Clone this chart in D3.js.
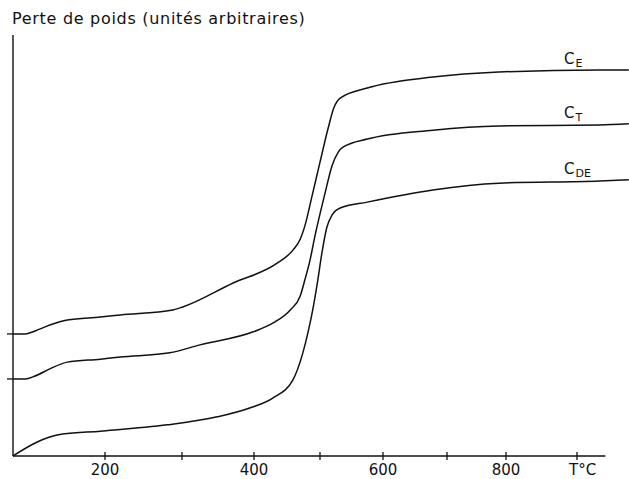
<!DOCTYPE html>
<html>
<head>
<meta charset="utf-8">
<script src="https://cdn.jsdelivr.net/npm/d3@7"></script>
<style>
  body { margin: 0; background: #fff; }
  text { font-family: "DejaVu Sans", sans-serif; fill: #111; }
</style>
</head>
<body>
<div id="chart"></div>
<script>
// temperature (°C) of each read point, and weight loss (arbitrary units, 0-100)
const ceTemps = [100, 113, 124, 140, 159, 195, 220, 288, 301, 371, 435, 459, 470, 477, 488, 500, 513, 522, 532, 575, 678, 788, 932, 973];
const ceValues = [29.0, 29.0, 29.7, 31.1, 32.3, 33.0, 33.5, 34.7, 35.4, 41.1, 45.8, 48.9, 51.5, 54.6, 61.8, 69.8, 77.9, 82.7, 85.0, 87.4, 90.0, 91.2, 91.7, 91.7];

const ctTemps = [100, 113, 124, 140, 159, 195, 220, 284, 325, 399, 429, 455, 470, 477, 485, 492, 500, 510, 519, 529, 537, 575, 678, 788, 932, 973];
const ctValues = [18.3, 18.3, 19.0, 20.7, 22.3, 23.0, 23.5, 24.5, 26.4, 29.5, 31.6, 34.7, 38.0, 41.8, 46.6, 52.0, 57.5, 63.7, 68.9, 72.2, 73.4, 75.3, 77.4, 78.4, 78.6, 78.9];

const cdeTemps = [100, 122, 140, 154, 195, 281, 349, 394, 429, 459, 474, 482, 489, 496, 503, 511, 519, 532, 575, 678, 788, 932, 973];
const cdeValues = [0, 2.85, 4.5, 5.2, 5.9, 7.4, 9.3, 11.4, 13.8, 18.1, 24.5, 29.5, 34.7, 41.1, 48.2, 54.4, 57.2, 58.9, 60.3, 63.2, 64.8, 65.3, 65.6];

const curveNames = ["E", "T", "DE"];

// x ticks: the recorder's temperature marks are not evenly spaced
const tickTemps = [200, 300, 400, 500, 600, 700, 800, 900];
const tickLabels = ["200", "", "400", "", "600", "", "800", "T°C"];

const width = 629;
const height = 479;

const svg = d3.select("#chart")
  .append("svg")
    .attr("width", width)
    .attr("height", height);

// piecewise scale following the marks on the axis
const x = d3.scaleLinear()
  .domain([100, 200, 300, 400, 500, 600, 700, 800, 900])
  .range([13, 105, 182, 254, 320, 383, 447, 506, 577]);

const y = d3.scaleLinear()
  .domain([0, 100])
  .range([456, 35]);

// X axis
const xAxis = svg.append("g")
  .attr("transform", `translate(0, ${y(0)})`);

xAxis.append("line")
  .attr("x1", x(100))
  .attr("x2", x(940))
  .attr("stroke", "#111")
  .attr("stroke-width", 1.4);

xAxis.selectAll(".tick")
  .data(tickTemps)
  .enter()
  .append("line")
    .attr("x1", d => x(d))
    .attr("x2", d => x(d))
    .attr("y1", -4)
    .attr("y2", 4)
    .attr("stroke", "#111")
    .attr("stroke-width", 1.3);

xAxis.selectAll(".label")
  .data(tickTemps)
  .enter()
  .append("text")
    .attr("x", (d, i) => i == tickTemps.length - 1 ? x(d) - 8 : x(d))
    .attr("y", 19)
    .attr("text-anchor", (d, i) => i == tickTemps.length - 1 ? "start" : "middle")
    .style("font-size", "15px")
    .text((d, i) => tickLabels[i]);

// Y axis
svg.append("line")
  .attr("x1", x(100))
  .attr("x2", x(100))
  .attr("y1", y(0))
  .attr("y2", y(100))
  .attr("stroke", "#111")
  .attr("stroke-width", 1.4);

svg.selectAll(".ytick")
  .data([ceValues[0], ctValues[0]])
  .enter()
  .append("line")
    .attr("x1", x(100) - 6)
    .attr("x2", x(100))
    .attr("y1", d => y(d))
    .attr("y2", d => y(d))
    .attr("stroke", "#111")
    .attr("stroke-width", 1.3);

svg.append("text")
  .attr("x", 12)
  .attr("y", 24)
  .style("font-size", "16px")
  .style("letter-spacing", "0.7px")
  .text("Perte de poids (unités arbitraires)");

// curves
const series = [
  ceTemps.map((t, i) => [t, ceValues[i]]),
  ctTemps.map((t, i) => [t, ctValues[i]]),
  cdeTemps.map((t, i) => [t, cdeValues[i]])
];

const line = d3.line()
  .x(d => x(d[0]))
  .y(d => y(d[1]))
  .curve(d3.curveMonotoneX);

svg.selectAll(".curve")
  .data(series)
  .enter()
  .append("path")
    .attr("d", line)
    .attr("fill", "none")
    .attr("stroke", "#111")
    .attr("stroke-width", 1.5);

// labels C_E, C_T, C_DE
const labels = svg.selectAll(".clabel")
  .data(series)
  .enter()
  .append("text")
    .attr("x", 564)
    .attr("y", d => y(d[d.length - 1][1]) - 6)
    .style("font-size", "15px");

labels.append("tspan").text("C");
labels.append("tspan")
  .attr("dy", 3)
  .attr("dx", 1)
  .style("font-size", "11px")
  .text((d, i) => curveNames[i]);
</script>
</body>
</html>
